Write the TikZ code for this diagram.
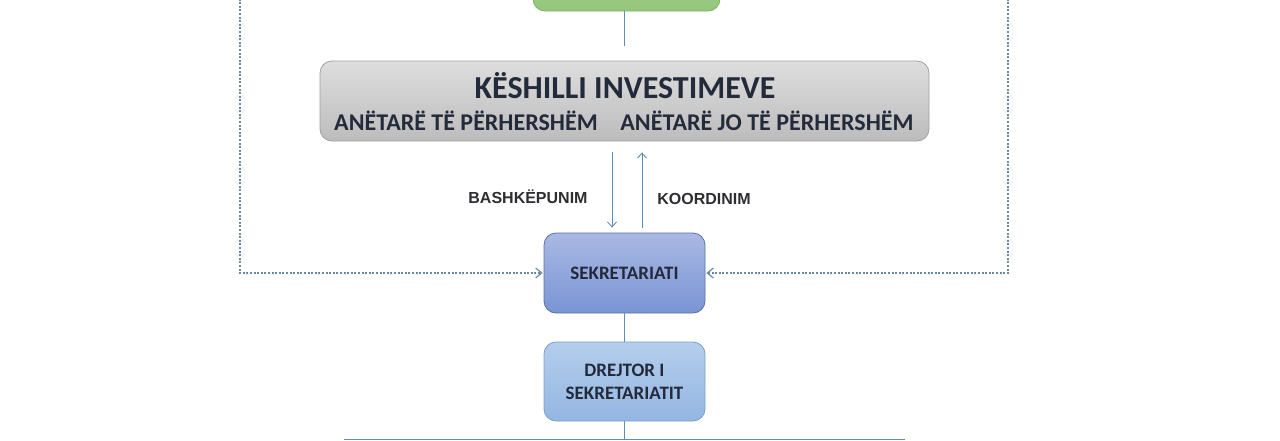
\documentclass[tikz,border=0pt]{standalone}
\usepackage{fontspec}
\setmainfont{Carlito}
\newfontfamily\labelfont{Liberation Sans}
\usetikzlibrary{arrows.meta}
\definecolor{linec}{RGB}{96,142,178}
\definecolor{dotc}{RGB}{105,138,165}
\definecolor{txtc}{RGB}{35,42,58}
\definecolor{lblc}{RGB}{45,45,50}
\tikzset{
  x=1pt, y=-1pt,
  boxbase/.style={rectangle, rounded corners=12pt, inner sep=0pt, align=center,
    font=\bfseries, text=txtc},
  greenbox/.style={boxbase, draw={rgb,255:red,125;green,178;blue,100}, line width=0.8pt,
    top color={rgb,255:red,160;green,205;blue,138}, bottom color={rgb,255:red,150;green,198;blue,126}},
  graybox/.style={boxbase, draw={rgb,255:red,160;green,160;blue,160}, line width=0.8pt,
    top color={rgb,255:red,222;green,222;blue,222}, bottom color={rgb,255:red,188;green,188;blue,188}},
  sekbox/.style={boxbase, draw={rgb,255:red,88;green,112;blue,170}, line width=0.8pt,
    top color={rgb,255:red,170;green,185;blue,228}, bottom color={rgb,255:red,122;green,148;blue,212}},
  drbox/.style={boxbase, draw={rgb,255:red,120;green,160;blue,205}, line width=0.8pt,
    top color={rgb,255:red,180;green,206;blue,236}, bottom color={rgb,255:red,148;green,182;blue,226}},
  conn/.style={draw=linec, line width=0.9pt},
  arr/.style={conn, -{Straight Barb[length=5pt,width=9pt]}},
  dotline/.style={draw=dotc, line width=2pt, dash pattern=on 2pt off 1.6pt,
    -{Straight Barb[length=6pt,width=10pt,line width=1.2pt,sep=0pt]}},
  lbl/.style={font=\labelfont\bfseries\fontsize{16}{19}\selectfont, text=lblc},
}
\begin{document}
\begin{tikzpicture}
\useasboundingbox (0,0) rectangle (1280,440);
% boxes
\node[greenbox, minimum width=187pt, minimum height=50pt] (green) at (626.5,-14) {};
\node[graybox, minimum width=609pt, minimum height=80pt] (kesh) at (624.5,101) {};
\node[font=\bfseries\fontsize{32}{36}\selectfont, text=txtc] (title) at (625,86) {KËSHILLI INVESTIMEVE};
\node[font=\bfseries\fontsize{24}{27}\selectfont, text=txtc] (perm) at (466,121) {ANËTARË TË PËRHERSHËM};
\node[font=\bfseries\fontsize{24}{27}\selectfont, text=txtc] (nonperm) at (767,121) {ANËTARË JO TË PËRHERSHËM};
\node[sekbox, minimum width=161pt, minimum height=80pt, font=\bfseries\fontsize{19}{22}\selectfont] (sek) at (624.5,273) {SEKRETARIATI};
\node[drbox, minimum width=161pt, minimum height=79pt, font=\bfseries\fontsize{19}{23}\selectfont] (dr) at (624.5,381.5) {DREJTOR I\\SEKRETARIATIT};
% labels
\node[lbl] (bash) at (528,197) {BASHKËPUNIM};
\node[lbl] (koord) at (704,199) {KOORDINIM};
% connectors
\draw[conn] (green.south -| kesh.north) -- ([yshift=15pt]kesh.north);
\draw[arr] ([xshift=-12.5pt,yshift=-11pt]kesh.south) -- ([xshift=-12.5pt,yshift=5pt]sek.north);
\draw[arr] ([xshift=17.5pt,yshift=5pt]sek.north) -- ([xshift=17.5pt,yshift=-11pt]kesh.south);
\draw[conn] (sek.south) -- (dr.north);
\coordinate (hl) at (344,439);
\coordinate (hr) at (905,439);
\draw[conn] (dr.south) -- (dr.south |- hl);
\draw[conn] (hl) -- (hr);
% dotted feedback lines
\coordinate (lt) at (240,-5);
\coordinate (rt) at (1008,-5);
\draw[dotline] (lt) |- ([xshift=-1pt]sek.west);
\draw[dotline] (rt) |- ([xshift=1pt]sek.east);
\end{tikzpicture}
\end{document}
